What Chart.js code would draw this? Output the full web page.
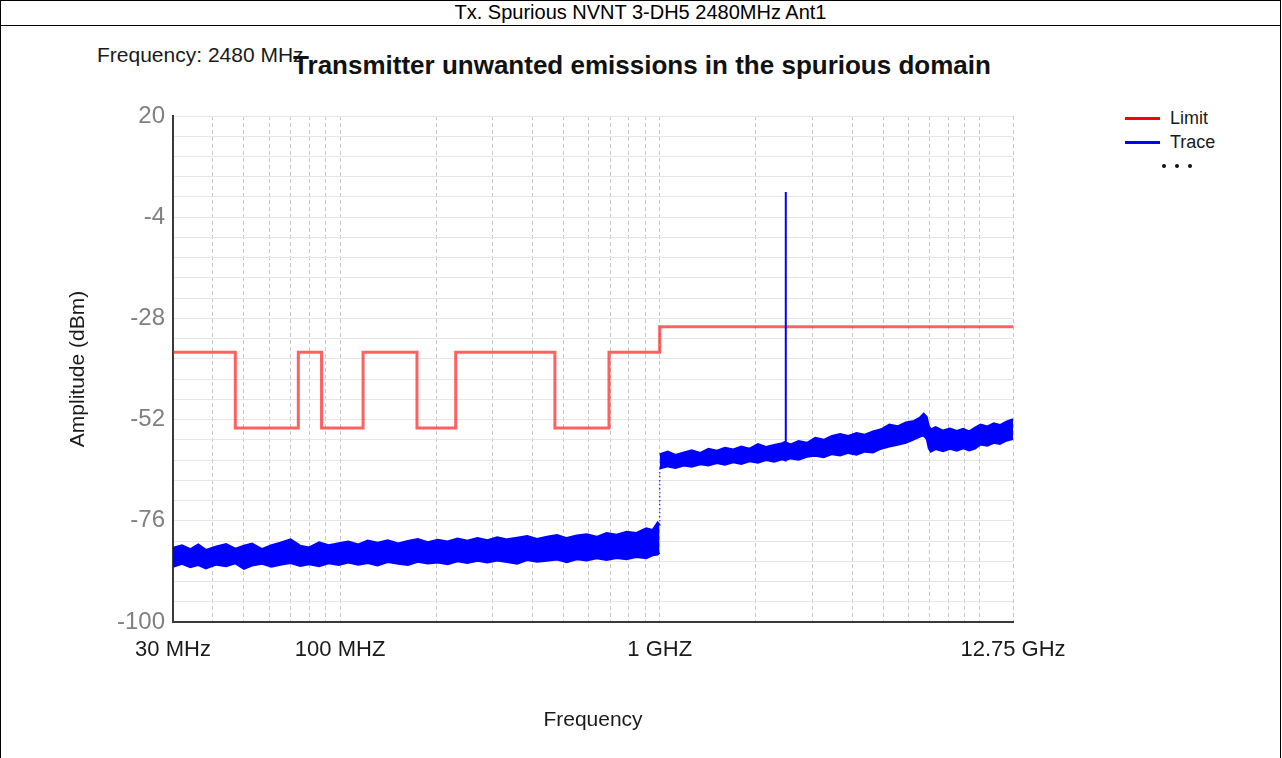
<!DOCTYPE html>
<html>
<head>
<meta charset="utf-8">
<title>Tx. Spurious NVNT 3-DH5 2480MHz Ant1</title>
<script src="https://cdn.jsdelivr.net/npm/chart.js@4.4.1/dist/chart.umd.min.js"></script>
<style>
  html, body { margin: 0; padding: 0; background: #fff; overflow: hidden; }
  body { width: 1282px; height: 758px; position: relative; font-family: "Liberation Sans", Arial, sans-serif; color: #000; }
  #frame { position: absolute; left: 0; top: 0; width: 1281px; height: 800px; border: 1px solid #000; box-sizing: border-box; }
  #header { position: absolute; left: 0; top: 0; width: 1281px; height: 26px; border: 1px solid #000; box-sizing: border-box;
            text-align: center; font-size: 20px; line-height: 22px; }
  .txt { position: absolute; white-space: nowrap; line-height: 1; }
  #title { left: 0; width: 1284px; text-align: center; top: 52px; font-size: 26px; font-weight: bold; color: #111; }
  #freqNote { left: 97px; top: 44px; font-size: 21px; color: #1a1a1a; }
  .legLine { position: absolute; left: 1125px; width: 35px; height: 3px; }
  .legText { left: 1170px; font-size: 18px; color: #1a1a1a; }
  .dot { position: absolute; width: 4px; height: 4px; border-radius: 2px; background: #111; top: 164px; }
  #chart { position: absolute; left: 0; top: 0; }
</style>
</head>
<body>
<div id="frame"></div>
<div id="header">Tx. Spurious NVNT 3-DH5 2480MHz Ant1</div>
<div class="txt" id="freqNote">Frequency: 2480 MHz</div>
<div class="txt" id="title">Transmitter unwanted emissions in the spurious domain</div>
<div class="legLine" style="top:117px;background:#ff0000"></div>
<div class="txt legText" style="top:109px">Limit</div>
<div class="legLine" style="top:141px;background:#0000ff"></div>
<div class="txt legText" style="top:133px">Trace</div>
<div class="dot" style="left:1162px"></div>
<div class="dot" style="left:1175px"></div>
<div class="dot" style="left:1188px"></div>
<canvas id="chart" width="1282" height="758"></canvas>
<script>
// limit line, MHz / dBm (each level holds until the next frequency)
var limitFreq  = [30, 47, 74, 87.5, 118, 174, 230, 470, 694, 1000, 12750];
var limitLevel = [-36, -54, -36, -54, -36, -54, -36, -54, -36, -30, -30];

// trace below 1 GHz, read as top and bottom edge of the noise band
var lowFreq = [30, 32, 34, 36, 38, 41, 44, 47, 50, 53, 57, 61, 65, 70, 75, 80, 86, 92, 99, 106,
               114, 122, 131, 141, 152, 163, 175, 188, 202, 217, 233, 250, 269, 289, 310, 333, 358, 385, 413, 444,
               477, 512, 550, 591, 635, 682, 733, 787, 845, 908, 950, 985, 999];
var lowTop = [-82.4, -81.8, -82.7, -81.6, -82.9, -82.1, -81.5, -82.6, -81.9, -81.4, -82.7, -81.8, -81.2, -80.4, -81.9, -82.3, -81.1, -81.8, -81.3, -80.9,
              -81.6, -80.7, -81.2, -80.6, -81.4, -80.8, -80.3, -81.1, -80.5, -80.9, -80.2, -80.7, -80.1, -80.6, -79.9, -80.4, -80.0, -79.6, -80.3, -79.8,
              -79.4, -80.1, -79.5, -79.2, -79.8, -78.9, -79.3, -78.6, -78.9, -77.8, -78.2, -76.4, -77.0];
var lowBottom = [-86.9, -86.2, -87.0, -86.5, -87.3, -86.4, -86.8, -86.1, -87.4, -86.6, -86.2, -86.9, -86.4, -86.0, -86.7, -86.3, -86.8, -86.1, -86.5, -85.9,
                 -86.4, -86.0, -86.6, -85.8, -86.2, -86.5, -85.7, -86.1, -85.9, -86.3, -85.6, -86.0, -85.5, -85.9, -85.4, -85.8, -86.2, -85.3, -85.7, -85.5,
                 -85.2, -85.8, -85.1, -85.4, -84.9, -85.3, -84.8, -85.1, -84.6, -84.9, -84.2, -84.0, -83.6];

// trace above 1 GHz, carrier spike at 2480 MHz
var highFreq = [1000, 1060, 1120, 1190, 1260, 1340, 1420, 1510, 1600, 1700, 1800, 1910, 2030, 2150, 2280, 2420, 2479, 2480, 2481, 2570,
                2720, 2890, 3070, 3260, 3460, 3670, 3890, 4130, 4380, 4650, 4930, 5230, 5550, 5890, 6250, 6500, 6700, 6850, 6950, 7050,
                7300, 7700, 8100, 8500, 8900, 9300, 9700, 10100, 10600, 11100, 11600, 12150, 12750];
var highTop = [-60.2, -59.6, -60.4, -59.8, -59.3, -59.9, -58.9, -59.4, -58.7, -59.1, -58.4, -58.9, -57.8, -58.5, -58.0, -57.6, -57.2, 2.0, -57.4, -57.9,
               -57.1, -57.5, -56.3, -56.8, -55.9, -55.4, -55.9, -55.2, -55.6, -54.8, -54.3, -53.2, -53.6, -52.7, -52.3, -51.6, -50.6, -51.4, -53.5, -54.3,
               -53.8, -54.6, -54.1, -54.7, -54.2, -54.8, -53.9, -53.2, -53.6, -52.9, -53.3, -52.5, -51.9];
var highBottom = [-63.6, -63.1, -63.5, -62.9, -63.2, -62.6, -62.9, -62.3, -62.7, -62.1, -62.5, -61.9, -62.2, -61.6, -62.0, -61.4, -61.7, -61.5, -61.6, -61.2,
                  -61.5, -60.8, -60.6, -60.9, -60.2, -60.5, -59.9, -60.3, -59.6, -59.8, -58.9, -58.4, -58.0, -57.5, -56.7, -56.1, -55.8, -56.6, -58.8, -59.6,
                  -59.0, -59.5, -58.9, -59.4, -58.8, -59.3, -58.9, -57.9, -58.2, -57.5, -57.8, -57.0, -56.6];

// axis ticks
var xGridFreq = [30, 40, 50, 60, 70, 80, 90, 100, 200, 300, 400, 500, 600, 700, 800, 900,
                 1000, 2000, 3000, 4000, 5000, 6000, 7000, 8000, 9000, 10000, 12750];
var xTickFreq = [30, 100, 1000, 12750];
var xTickText = ['30 MHz', '100 MHZ', '1 GHZ', '12.75 GHz'];
var yTickLevel = [-100, -76, -52, -28, -4, 20];
var yMinorPerStep = 5;

var SANS = "'Liberation Sans', Arial, sans-serif";
var BLUE = '#0000ff';

function toPoints(xs, ys) {
    return xs.map(function (x, i) { return {x: x, y: ys[i]}; });
}

function edge(xs, ys, fill) {
    return {
        data: toPoints(xs, ys),
        borderColor: BLUE,
        backgroundColor: BLUE,
        borderWidth: 2,
        pointRadius: 0,
        fill: fill
    };
}

// dotted jump of the sweep at 1 GHz
var jump = {
    data: toPoints([lowFreq[lowFreq.length - 1], highFreq[0]], [lowTop[lowTop.length - 1], highBottom[0]]),
    borderColor: BLUE,
    borderWidth: 1.5,
    borderDash: [1, 3],
    pointRadius: 0,
    stepped: 'before',
    fill: false
};

new Chart(document.getElementById('chart').getContext('2d'), {
    type: 'line',
    data: {
        datasets: [
            edge(lowFreq, lowTop, false),
            edge(lowFreq, lowBottom, '-1'),
            edge(highFreq, highTop, false),
            edge(highFreq, highBottom, '-1'),
            jump,
            {
                label: 'Limit',
                data: toPoints(limitFreq, limitLevel),
                borderColor: 'rgba(255, 30, 30, 0.7)',
                borderWidth: 3,
                pointRadius: 0,
                stepped: 'before',
                fill: false
            }
        ]
    },
    options: {
        responsive: false,
        animation: false,
        devicePixelRatio: 1,
        layout: {padding: {left: 0, top: 116, right: 269, bottom: 0}},
        plugins: {legend: {display: false}, tooltip: {enabled: false}},
        scales: {
            x: {
                type: 'logarithmic',
                min: 30,
                max: 12750,
                afterBuildTicks: function (scale) {
                    scale.ticks = xGridFreq.map(function (v) { return {value: v}; });
                },
                afterFit: function (scale) { scale.height = 136; },
                ticks: {
                    autoSkip: false, maxRotation: 0, minRotation: 0, padding: 15,
                    color: '#1a1a1a',
                    font: {family: SANS, size: 22},
                    callback: function (value) {
                        var i = xTickFreq.indexOf(value);
                        return i < 0 ? '' : xTickText[i];
                    }
                },
                grid: {color: '#c8c8c8', lineWidth: 1, drawTicks: false},
                border: {display: true, color: '#3a3a3a', width: 2, dash: [4, 3]},
                title: {display: true, text: 'Frequency', color: '#1a1a1a',
                        font: {family: SANS, size: 21}, padding: {top: 0, bottom: 25}}
            },
            y: {
                type: 'linear',
                min: -100,
                max: 20,
                afterBuildTicks: function (scale) {
                    var ticks = [];
                    for (var i = 0; i < yTickLevel.length - 1; i++) {
                        var step = (yTickLevel[i + 1] - yTickLevel[i]) / yMinorPerStep;
                        for (var k = 0; k < yMinorPerStep; k++) ticks.push({value: yTickLevel[i] + k * step});
                    }
                    ticks.push({value: yTickLevel[yTickLevel.length - 1]});
                    scale.ticks = ticks;
                },
                afterFit: function (scale) { scale.width = 173; },
                ticks: {
                    autoSkip: false, padding: 8,
                    color: '#808080',
                    font: {family: SANS, size: 24},
                    callback: function (value) {
                        return yTickLevel.indexOf(Math.round(value * 100) / 100) < 0 ? '' : String(value);
                    }
                },
                grid: {color: '#e6e6e6', lineWidth: 1, drawTicks: false},
                border: {display: true, color: '#3a3a3a', width: 2},
                title: {display: true, text: 'Amplitude (dBm)', color: '#1a1a1a',
                        font: {family: SANS, size: 21}, padding: {top: 66, bottom: 0}}
            }
        }
    }
});
</script>
</body>
</html>
